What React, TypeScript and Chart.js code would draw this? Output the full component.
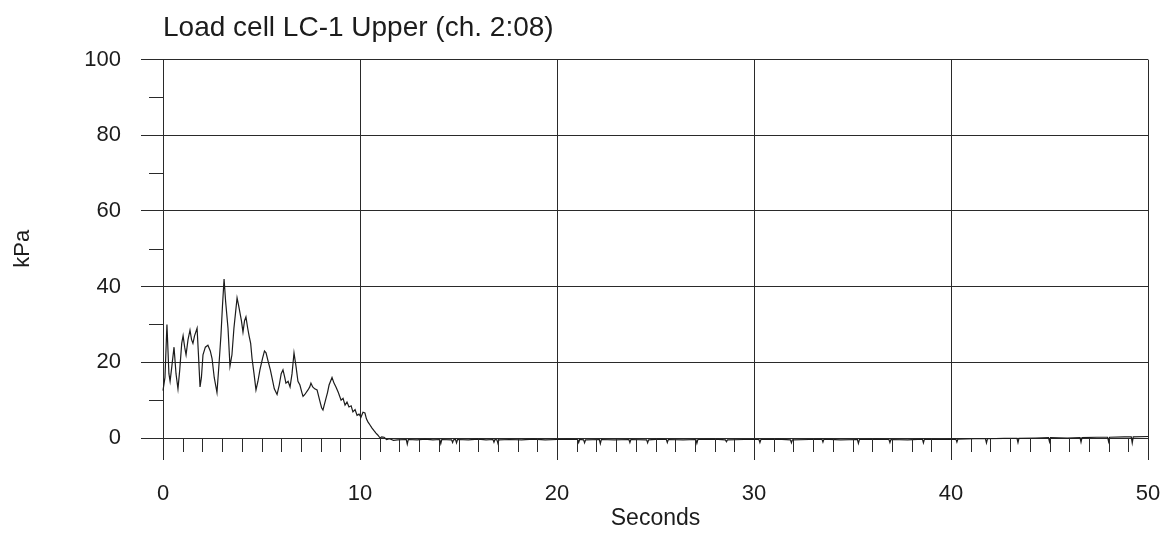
import React, { useEffect, useRef } from "react";
import { Chart, registerables } from "chart.js";

Chart.register(...registerables);

const TITLE = "Load cell LC-1 Upper (ch. 2:08)";
const X_TITLE = "Seconds";
const Y_TITLE = "kPa";

const xMajorTicks = [0, 10, 20, 30, 40, 50];
const yMajorTicks = [0, 20, 40, 60, 80, 100];
const yMinorTicks = [10, 30, 50, 70, 90];
const xMinorStep = 1;

const timeSec = [
  0.0, 0.1, 0.2, 0.3, 0.36, 0.45, 0.56, 0.66, 0.76, 0.85, 0.95, 1.02, 1.1, 1.17, 1.27, 1.37, 1.45, 1.52, 1.6, 1.73,
  1.8, 1.88, 1.95, 2.03, 2.15, 2.28, 2.4, 2.49, 2.6, 2.74, 2.85, 2.94, 3.02, 3.1, 3.18, 3.3, 3.4, 3.5, 3.6, 3.68,
  3.76, 3.84, 3.91, 3.98, 4.06, 4.14, 4.21, 4.3, 4.37, 4.45, 4.52, 4.62, 4.72, 4.82, 4.92, 5.05, 5.15, 5.23, 5.35, 5.45,
  5.53, 5.65, 5.79, 5.9, 6.0, 6.09, 6.18, 6.24, 6.35, 6.45, 6.55, 6.65, 6.75, 6.85, 6.95, 7.05, 7.11, 7.2, 7.36, 7.45,
  7.51, 7.6, 7.7, 7.82, 7.95, 8.05, 8.12, 8.25, 8.35, 8.43, 8.58, 8.68, 8.78, 8.9, 9.04, 9.14, 9.24, 9.34, 9.44, 9.55,
  9.64, 9.75, 9.85, 9.95, 10.05, 10.15, 10.25, 10.33, 10.41, 10.5, 10.61, 10.7, 10.81, 10.9, 11.02, 11.1, 11.22, 11.35, 11.5, 11.7,
  11.9,
  12.35, 12.4, 12.45,
  12.9, 13.3, 13.7,
  14.05, 14.1, 14.15,
  14.65, 14.7, 14.75,
  14.85, 14.9, 14.95,
  15.5, 16.0, 16.4,
  16.75, 16.8, 16.85,
  16.95, 17.0, 17.05,
  17.6, 18.2, 18.8, 19.4, 20.0, 20.5,
  21.05, 21.1, 21.15,
  21.35, 21.4, 21.45,
  22.15, 22.2, 22.25,
  22.9,
  23.65, 23.7, 23.75,
  24.55, 24.6, 24.65,
  25.2,
  25.55, 25.6, 25.65,
  26.4,
  27.05, 27.1, 27.15,
  28.0,
  28.55, 28.6, 28.65,
  29.5,
  30.25, 30.3, 30.35,
  31.2,
  31.85, 31.9, 31.95,
  32.8,
  33.45, 33.5, 33.55,
  34.4,
  35.25, 35.3, 35.35,
  36.2,
  36.85, 36.9, 36.95,
  37.8,
  38.55, 38.6, 38.65,
  39.5,
  40.25, 40.3, 40.35,
  41.2,
  41.75, 41.8, 41.85,
  42.7,
  43.35, 43.4, 43.45,
  44.3,
  44.95, 45.0, 45.05,
  45.9,
  46.55, 46.6, 46.65,
  47.4,
  47.95, 48.0, 48.05,
  48.8,
  49.15, 49.2, 49.25,
  50.0,
];

const pressureKPa = [
  12.5, 16, 30, 17, 15, 19, 24, 17, 13, 18, 25, 27, 24, 22, 26, 28.5, 26, 25, 27, 29,
  22, 13.5, 16, 22, 24, 24.5, 23, 21, 16, 12, 20, 27, 35, 42, 36, 29, 19, 22, 29, 33,
  37, 35, 33, 31, 28, 31, 32, 29, 27, 25, 21, 17, 12.7, 15, 18, 21, 23, 22.5, 20, 18,
  16, 13, 11.5, 14, 17, 18, 16, 14.5, 15, 13.5, 17, 22.5, 19, 15, 14, 12, 11, 11.5, 12.7, 13.5,
  14.5, 13.5, 13, 12.7, 10, 8, 7.4, 10, 12, 14, 16, 14.5, 13.5, 12, 10, 10.5, 8.7, 9.5, 8.2, 8.5,
  6.9, 7.5, 6, 6.3, 5.5, 6.8, 6.6, 5, 4.2, 3.5, 2.6, 2, 1.3, 0.8, 0, 0.3, 0.2, -0.4, -0.2, -0.6,
  -0.5,
  -0.4, -1.6, -0.4,
  -0.5, -0.3, -0.5,
  -0.4, -1.5, -0.4,
  -0.5, -1.2, -0.5,
  -0.4, -1.3, -0.4,
  -0.5, -0.3, -0.5,
  -0.4, -1.1, -0.4,
  -0.5, -1.4, -0.5,
  -0.4, -0.5, -0.3, -0.5, -0.4, -0.3,
  -0.4, -1.2, -0.4,
  -0.5, -1.3, -0.5,
  -0.4, -1.5, -0.4,
  -0.5,
  -0.4, -1.2, -0.4,
  -0.5, -1.3, -0.5,
  -0.3,
  -0.4, -1.2, -0.4,
  -0.5,
  -0.4, -1.4, -0.4,
  -0.3,
  -0.5, -1.0, -0.5,
  -0.4,
  -0.4, -1.2, -0.4,
  -0.3,
  -0.5, -1.3, -0.5,
  -0.4,
  -0.3, -1.1, -0.3,
  -0.5,
  -0.4, -1.4, -0.4,
  -0.3,
  -0.4, -1.2, -0.4,
  -0.5,
  -0.3, -1.3, -0.3,
  -0.4,
  -0.3, -1.1, -0.3,
  -0.2,
  -0.2, -1.3, -0.2,
  -0.1,
  -0.1, -1.2, -0.1,
  0.0,
  0.1, -1.0, 0.1,
  0.0,
  0.1, -1.1, 0.1,
  0.2,
  0.2, -1.0, 0.2,
  0.3,
  0.3, -1.3, 0.3,
  0.4,
];

const FONT = "'Liberation Sans', Arial, Helvetica, sans-serif";
const INK = "#1c1c1c";
const GRID = "#2a2a2a";

const minorTicksPlugin = {
  id: "minorTicks",
  afterDraw(chart: any) {
    const { ctx, chartArea, scales } = chart;
    const xs = scales.x;
    const ys = scales.y;
    ctx.save();
    ctx.strokeStyle = GRID;
    ctx.lineWidth = 1;
    ctx.beginPath();
    for (let v = xs.min; v <= xs.max; v += xMinorStep) {
      if (xMajorTicks.includes(v)) continue;
      const px = Math.round(xs.getPixelForValue(v)) + 0.5;
      ctx.moveTo(px, chartArea.bottom);
      ctx.lineTo(px, chartArea.bottom + 14);
    }
    for (const v of yMinorTicks) {
      const py = Math.round(ys.getPixelForValue(v)) + 0.5;
      ctx.moveTo(chartArea.left - 14, py);
      ctx.lineTo(chartArea.left, py);
    }
    ctx.stroke();
    ctx.restore();
  },
};

export default function App() {
  const canvasRef = useRef<HTMLCanvasElement | null>(null);

  useEffect(() => {
    document.body.style.margin = "0";
    const canvas = canvasRef.current;
    if (!canvas) return;
    const points = timeSec.map((t, i) => ({ x: t, y: pressureKPa[i] }));
    const chart = new Chart(canvas, {
      type: "line",
      data: {
        datasets: [
          {
            label: "LC-1 Upper",
            data: points,
            borderColor: INK,
            borderWidth: 1.2,
            pointRadius: 0,
            tension: 0,
            fill: false,
            clip: false as any,
          },
        ],
      },
      options: {
        animation: false,
        responsive: false,
        maintainAspectRatio: false,
        layout: { padding: { left: 0, right: 21, top: 0, bottom: 0 } },
        plugins: {
          legend: { display: false },
          tooltip: { enabled: false },
          title: {
            display: true,
            text: TITLE,
            align: "start",
            fullSize: false,
            color: INK,
            font: { family: FONT, size: 28, weight: "normal" },
            padding: { top: 11, bottom: 15 },
          },
        },
        scales: {
          x: {
            type: "linear",
            min: 0,
            max: 50,
            afterBuildTicks: (scale: any) => {
              scale.ticks = xMajorTicks.map((v) => ({ value: v }));
            },
            afterFit: (scale: any) => {
              scale.height = 95;
              scale.paddingLeft = 0;
              scale.paddingRight = 0;
            },
            ticks: {
              color: INK,
              font: { family: FONT, size: 22 },
              padding: 21,
              maxRotation: 0,
              autoSkip: false,
            },
            grid: { color: GRID, lineWidth: 1, tickLength: 22, tickColor: GRID },
            border: { display: true, color: GRID },
            title: {
              display: true,
              text: X_TITLE,
              color: INK,
              font: { family: FONT, size: 23 },
              padding: { top: 0, bottom: 1 },
            },
          },
          y: {
            type: "linear",
            min: 0,
            max: 100,
            afterBuildTicks: (scale: any) => {
              scale.ticks = yMajorTicks.map((v) => ({ value: v }));
            },
            afterFit: (scale: any) => {
              scale.width = 163;
            },
            ticks: {
              color: INK,
              font: { family: FONT, size: 22 },
              padding: 20,
              autoSkip: false,
            },
            grid: { color: GRID, lineWidth: 1, tickLength: 22, tickColor: GRID },
            border: { display: true, color: GRID },
            title: {
              display: true,
              text: Y_TITLE,
              color: INK,
              font: { family: FONT, size: 22 },
              padding: { top: 10, bottom: 0 },
            },
          },
        },
      },
      plugins: [minorTicksPlugin],
    } as any);
    return () => chart.destroy();
  }, []);

  return (
    <div style={{ width: 1169, height: 533 }}>
      <canvas ref={canvasRef} width={1169} height={533} />
    </div>
  );
}
